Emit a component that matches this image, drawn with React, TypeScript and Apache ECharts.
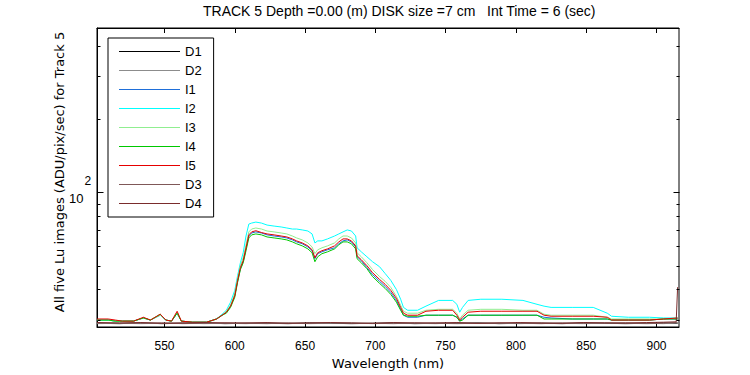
import React, { useEffect, useRef } from "react";
import * as echarts from "echarts";

const wavelengths = [502, 510, 515, 520, 528, 535, 540, 547, 551, 555, 559, 562, 570, 580, 587, 591, 594, 597, 600, 602, 604, 606, 608, 610, 612, 615, 619, 623, 628, 633, 637, 641, 644, 648, 652, 655, 657, 659, 662, 666, 671, 674, 677, 680, 683, 686, 687, 690, 694, 698, 703, 707, 711, 715, 718, 720, 723, 730, 736, 745, 755, 758, 760, 762, 766, 775, 790, 805, 815, 820, 825, 840, 855, 865, 868, 880, 895, 905, 915];

const I1 = [29.9, 29.9, 29.6, 29.6, 29.6, 30.5, 29.9, 31.3, 29.9, 29.6, 31.9, 29.6, 29.3, 29.3, 30.2, 31.3, 32.2, 34.1, 37.7, 43.1, 48.6, 51.9, 58.6, 66.2, 68.1, 68.8, 68.1, 66.9, 66.2, 65.6, 65.0, 63.8, 62.6, 61.5, 59.7, 57.6, 53.4, 56.0, 57.0, 58.1, 59.2, 61.5, 63.2, 63.8, 62.6, 59.7, 54.4, 52.4, 49.1, 46.0, 43.1, 41.1, 38.8, 36.0, 33.1, 31.3, 30.7, 30.7, 31.3, 31.3, 31.3, 30.7, 29.6, 30.2, 31.3, 31.3, 31.3, 31.3, 31.3, 30.7, 30.5, 30.2, 30.2, 30.2, 29.9, 29.9, 29.9, 30.2, 30.2];
const I2 = [29.9, 29.9, 29.6, 29.6, 29.6, 30.5, 29.9, 31.3, 29.9, 29.6, 31.9, 29.6, 29.3, 29.3, 30.2, 31.6, 32.8, 35.4, 39.6, 45.5, 51.4, 56.5, 66.2, 74.1, 74.8, 75.5, 74.8, 73.4, 72.7, 72.1, 71.4, 70.7, 70.7, 70.1, 69.4, 67.5, 62.0, 63.2, 63.2, 64.4, 66.2, 67.5, 68.8, 70.1, 69.4, 66.2, 59.2, 57.0, 54.4, 51.9, 49.5, 46.4, 43.5, 39.9, 36.4, 33.7, 32.8, 32.8, 34.1, 36.0, 36.0, 34.7, 32.2, 33.7, 36.0, 36.4, 36.4, 36.0, 34.7, 34.1, 33.7, 33.7, 33.7, 31.9, 31.0, 30.7, 30.7, 30.5, 30.5];
const I3 = [29.9, 29.9, 29.6, 29.6, 29.6, 30.5, 29.9, 31.3, 29.9, 29.6, 32.2, 29.6, 29.3, 29.3, 30.2, 31.3, 32.5, 34.4, 38.5, 44.3, 50.0, 53.9, 60.9, 68.8, 70.7, 71.4, 70.7, 69.4, 68.8, 68.1, 67.5, 66.2, 65.0, 63.8, 62.0, 59.7, 56.0, 58.1, 59.2, 60.3, 62.0, 64.4, 66.2, 66.2, 65.0, 62.0, 56.5, 54.4, 51.4, 48.2, 45.1, 43.1, 40.7, 37.4, 34.4, 32.5, 31.9, 31.9, 32.8, 33.1, 33.1, 31.9, 30.2, 31.3, 32.8, 33.1, 33.1, 32.8, 32.8, 31.6, 31.3, 31.3, 31.3, 30.7, 30.2, 30.2, 30.2, 30.2, 30.5];
const I4 = [29.9, 29.9, 29.6, 29.6, 29.6, 30.5, 29.9, 31.6, 29.9, 29.6, 31.9, 29.6, 29.3, 29.3, 30.2, 31.3, 31.9, 33.7, 37.1, 42.7, 48.2, 51.4, 57.6, 65.0, 66.9, 67.5, 66.9, 65.6, 65.0, 64.4, 63.8, 62.6, 61.5, 60.3, 58.6, 56.5, 51.9, 54.4, 56.0, 57.0, 58.6, 60.9, 62.6, 62.6, 61.5, 58.6, 53.4, 51.4, 48.6, 45.1, 42.3, 40.3, 38.1, 35.4, 32.8, 31.3, 31.0, 31.0, 31.3, 31.3, 31.3, 30.7, 29.6, 29.9, 31.3, 31.3, 31.3, 31.3, 31.3, 30.2, 30.2, 30.2, 30.2, 30.2, 29.9, 29.9, 29.9, 30.2, 30.2];
const I5 = [30.2, 30.2, 29.9, 29.6, 29.6, 30.7, 29.9, 31.6, 29.9, 29.6, 32.5, 29.6, 29.3, 29.3, 30.2, 31.3, 32.2, 34.1, 37.7, 43.5, 49.1, 52.4, 59.2, 66.9, 68.8, 69.6, 68.4, 67.5, 66.9, 66.2, 65.6, 64.4, 63.2, 62.0, 60.3, 58.1, 53.9, 56.5, 57.6, 58.6, 60.3, 62.6, 64.4, 64.4, 63.2, 60.3, 54.9, 52.9, 50.0, 46.8, 43.9, 41.9, 39.6, 36.7, 33.7, 31.9, 31.3, 31.3, 32.5, 32.8, 32.8, 31.3, 29.9, 30.7, 32.2, 32.5, 32.5, 32.5, 32.5, 31.3, 31.0, 31.0, 31.0, 30.7, 29.9, 29.9, 29.9, 30.2, 30.5];

const darkWavelengths = [502, 518, 533, 548, 563, 578, 593, 608, 623, 638, 653, 668, 683, 698, 713, 728, 743, 758, 773, 788, 803, 818, 833, 848, 863, 878, 893, 905, 914, 915];
const D1 = [29.0, 28.9, 29.1, 28.9, 29.0, 29.1, 28.9, 29.0, 29.0, 28.9, 29.1, 29.0, 28.9, 29.0, 29.1, 28.9, 29.0, 29.0, 29.1, 28.9, 29.0, 29.0, 28.9, 29.1, 29.0, 28.9, 29.0, 29.1, 29.0, 29.0];
const D2 = [28.9, 29.0, 28.9, 29.0, 29.1, 28.9, 29.0, 28.9, 29.1, 29.0, 28.9, 29.0, 29.1, 28.9, 29.0, 29.0, 28.9, 29.1, 29.0, 29.0, 28.9, 29.1, 29.0, 28.9, 29.0, 29.1, 29.0, 28.9, 29.1, 29.2];
const D3 = [29.1, 29.0, 29.0, 29.1, 28.9, 29.0, 29.1, 29.0, 28.9, 29.1, 29.0, 29.1, 29.0, 29.0, 28.9, 29.1, 29.0, 28.9, 29.0, 29.1, 29.0, 28.9, 29.1, 29.0, 29.1, 29.0, 28.9, 29.0, 29.2, 29.1];
const D4 = [29.2, 29.1, 29.2, 29.0, 29.1, 29.2, 29.1, 29.1, 29.2, 29.0, 29.1, 29.2, 29.1, 29.0, 29.2, 29.1, 29.1, 29.2, 29.0, 29.1, 29.2, 29.1, 29.0, 29.2, 29.1, 29.1, 29.2, 29.3, 29.4, 40.8];

const xTickValues = [550, 600, 650, 700, 750, 800, 850, 900];
const yMajorTicks = [100];
const yMinorTicks = [30, 40, 50, 60, 70, 80, 90, 200, 300, 400];

const X_MIN = 502;
const X_MAX = 916;
const Y_MIN = 28;
const Y_MAX = 473;

const FONT = "'Liberation Sans', Arial, Helvetica, sans-serif";
const WIDE_FONT = "'DejaVu Sans', 'Liberation Sans', sans-serif";

const seriesDefs = [
  { name: "D1", x: darkWavelengths, y: D1, color: "#000000" },
  { name: "D2", x: darkWavelengths, y: D2, color: "#8c8c8c" },
  { name: "I1", x: wavelengths, y: I1, color: "#1f6fd9" },
  { name: "I2", x: wavelengths, y: I2, color: "#00ffff" },
  { name: "I3", x: wavelengths, y: I3, color: "#90ee90" },
  { name: "I4", x: wavelengths, y: I4, color: "#00c800" },
  { name: "I5", x: wavelengths, y: I5, color: "#e60000" },
  { name: "D3", x: darkWavelengths, y: D3, color: "#7f5858" },
  { name: "D4", x: darkWavelengths, y: D4, color: "#7a2c2c" },
];

export default function App() {
  const ref = useRef<HTMLDivElement>(null);

  useEffect(() => {
    if (!ref.current) return;
    const chart = echarts.init(ref.current, undefined, { renderer: "svg" });

    const xAxisCommon = {
      type: "value" as const,
      min: X_MIN,
      max: X_MAX,
      splitLine: { show: false },
      axisLine: { show: true, lineStyle: { color: "#000", width: 1 } },
      axisTick: {
        show: true,
        inside: true,
        length: 5,
        customValues: xTickValues,
        lineStyle: { color: "#000" },
      },
    };

    chart.setOption({
      animation: false,
      backgroundColor: "#ffffff",
      textStyle: { fontFamily: FONT },
      title: {
        text: "TRACK 5 Depth =0.00 (m) DISK size =7 cm   Int Time = 6 (sec)",
        left: 203,
        top: 4,
        padding: 0,
        textStyle: { fontSize: 14, fontWeight: "normal", color: "#000", fontFamily: FONT },
      },
      grid: {
        left: 97,
        right: 71,
        top: 28,
        bottom: 45,
        show: true,
        borderColor: "#000",
        borderWidth: 1,
        backgroundColor: "#ffffff",
      },
      legend: {
        orient: "vertical",
        left: 108,
        top: 38,
        padding: [6, 12, 6, 11],
        itemGap: 4,
        itemWidth: 61,
        itemHeight: 1,
        icon: "rect",
        selectedMode: false,
        backgroundColor: "#ffffff",
        borderColor: "#000",
        borderWidth: 1,
        borderRadius: 0,
        itemStyle: { borderWidth: 0 },
        textStyle: { fontSize: 13, lineHeight: 15, color: "#000", fontFamily: FONT },
        data: seriesDefs.map((s) => s.name),
      },
      xAxis: [
        {
          ...xAxisCommon,
          position: "bottom",
          name: "Wavelength (nm)",
          nameLocation: "middle",
          nameGap: 30,
          nameTextStyle: { fontSize: 13, color: "#000", fontFamily: WIDE_FONT },
          axisLabel: {
            show: true,
            customValues: xTickValues,
            margin: 13,
            fontSize: 12,
            color: "#000",
            fontFamily: FONT,
          },
        },
        {
          ...xAxisCommon,
          position: "top",
          axisLabel: { show: false },
        },
      ],
      yAxis: {
        type: "log",
        logBase: 10,
        min: Y_MIN,
        max: Y_MAX,
        axisLine: { show: true, lineStyle: { color: "#000" } },
        axisTick: { show: false },
        axisLabel: { show: false },
        splitLine: { show: false },
        minorTick: { show: false },
      },
      series: seriesDefs.map((s) => ({
        name: s.name,
        type: "line",
        symbol: "none",
        showSymbol: false,
        color: s.color,
        lineStyle: { color: s.color, width: 1 },
        itemStyle: { color: s.color },
        data: s.x.map((w, i) => [w, s.y[i]]),
        z: 2,
      })),
    });

    const xl = chart.convertToPixel({ xAxisIndex: 0 }, X_MIN) as number;
    const xr = chart.convertToPixel({ xAxisIndex: 0 }, X_MAX) as number;
    const yOf = (v: number) => Math.round(chart.convertToPixel({ yAxisIndex: 0 }, v) as number) + 0.5;
    const lx = Math.round(xl) + 0.5;
    const rx = Math.round(xr) + 0.5;

    const tickLines: any[] = [];
    const addTicks = (vals: number[], len: number) => {
      vals.forEach((v) => {
        const y = yOf(v);
        tickLines.push({
          type: "line",
          shape: { x1: lx, y1: y, x2: lx + len, y2: y },
          style: { stroke: "#000", lineWidth: 1 },
          z: 10,
        });
        tickLines.push({
          type: "line",
          shape: { x1: rx, y1: y, x2: rx - len, y2: y },
          style: { stroke: "#000", lineWidth: 1 },
          z: 10,
        });
      });
    };
    addTicks(yMajorTicks, 6);
    addTicks(yMinorTicks, 3);

    const y100 = yOf(100);
    chart.setOption({
      graphic: [
        ...tickLines,
        {
          type: "text",
          x: lx - 14,
          y: y100 + 6,
          style: {
            text: "10",
            fontSize: 13,
            fontFamily: FONT,
            fill: "#000",
            align: "right",
            verticalAlign: "middle",
            textAlign: "right",
            textVerticalAlign: "middle",
          },
        },
        {
          type: "text",
          x: lx - 13,
          y: y100 - 12,
          style: {
            text: "2",
            fontSize: 12,
            fontFamily: FONT,
            fill: "#000",
            align: "left",
            verticalAlign: "middle",
            textAlign: "left",
            textVerticalAlign: "middle",
          },
        },
        {
          type: "text",
          x: 59,
          y: 172,
          rotation: Math.PI / 2,
          style: {
            text: "All five Lu images (ADU/pix/sec) for Track 5",
            fontSize: 13,
            fontFamily: WIDE_FONT,
            fill: "#000",
            align: "center",
            verticalAlign: "middle",
            textAlign: "center",
            textVerticalAlign: "middle",
          },
        },
      ],
    });

    return () => {
      chart.dispose();
    };
  }, []);

  return (
    <div
      ref={ref}
      style={{ position: "fixed", left: 0, top: 0, width: 750, height: 375, background: "#fff" }}
    />
  );
}
